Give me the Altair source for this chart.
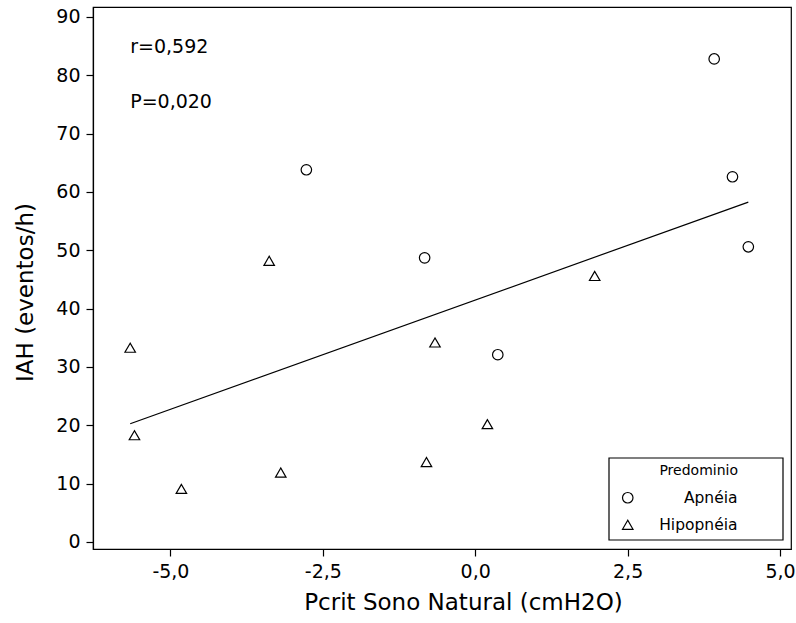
import altair as alt
import pandas as pd

# ---- data ----
apneia_x = [-2.77, -0.83, 0.37, 3.92, 4.22, 4.48]
apneia_y = [63.8, 48.7, 32.1, 82.8, 62.6, 50.6]
hipo_x = [-5.66, -5.59, -4.82, -3.38, -3.19, -0.80, -0.66, 0.20, 1.96]
hipo_y = [33.3, 18.3, 9.1, 48.2, 11.9, 13.7, 34.2, 20.2, 45.6]
groups = ["Apnéia", "Hipopnéia"]
shapes = ["circle", "triangle-up"]
x_ticks = [-5.0, -2.5, 0.0, 2.5, 5.0]
y_ticks = [0, 10, 20, 30, 40, 50, 60, 70, 80, 90]
annot_text = ["r=0,592", "P=0,020"]
annot_x = [-5.66, -5.66]
annot_y = [84.8, 75.4]
legend_title = "Predominio"

df = pd.DataFrame({
    "x": apneia_x + hipo_x,
    "y": apneia_y + hipo_y,
    "Predominio": [groups[0]] * len(apneia_x) + [groups[1]] * len(hipo_x),
})
ann = pd.DataFrame({"x": annot_x, "y": annot_y, "t": annot_text})

FONT = "DejaVu Sans"
xscale = alt.Scale(domain=[-6.27, 5.18], nice=False, zero=False)
yscale = alt.Scale(domain=[-1.2, 91.7], nice=False, zero=False)

xenc = alt.X("x:Q", scale=xscale, title="Pcrit Sono Natural (cmH2O)",
             axis=alt.Axis(values=x_ticks, titleX=370,
                           labelExpr="replace(replace(format(datum.value, '.1f'), '.', ','), '\u2212', '-')"))
yenc = alt.Y("y:Q", scale=yscale, title="IAH (eventos/h)",
             axis=alt.Axis(values=y_ticks, format="d", titleY=285))

# legend frame (chart chrome)
legend_box = alt.Chart(pd.DataFrame({"k": [0]})).mark_rect(
    fill="white", stroke="black", strokeWidth=1.2).encode(
    x=alt.value(516), x2=alt.value(690), y=alt.value(451), y2=alt.value(533))

points = alt.Chart(df).mark_point(filled=False, color="black", strokeWidth=1.2, size=110, opacity=1).encode(
    x=xenc, y=yenc,
    shape=alt.Shape("Predominio:N", scale=alt.Scale(domain=groups, range=shapes),
                    legend=alt.Legend(
                        orient="none", legendX=521, legendY=457,
                        title=legend_title, titleAnchor="end", titleFontWeight="normal",
                        titleFontSize=14, titleFont=FONT, titleColor="black", titlePadding=12,
                        labelFontSize=15.5, labelFont=FONT, labelColor="black",
                        labelAlign="right", labelOffset=102,
                        symbolSize=110, symbolStrokeColor="black", symbolStrokeWidth=1.2,
                        symbolFillColor="transparent", symbolType="circle", symbolOffset=6,
                        padding=0, rowPadding=10,
                    )),
)

line = alt.Chart(df).transform_regression("x", "y").mark_line(color="black", strokeWidth=1.2).encode(
    x=alt.X("x:Q", scale=xscale), y=alt.Y("y:Q", scale=yscale))

text = alt.Chart(ann).mark_text(align="left", baseline="middle", fontSize=19, font=FONT, color="black").encode(
    x=alt.X("x:Q", scale=xscale), y=alt.Y("y:Q", scale=yscale), text="t:N")

chart = alt.layer(legend_box, line, points, text).properties(
    width=698, height=542,
    autosize=alt.AutoSizeParams(type="none"),
    padding={"left": 93, "top": 7, "right": 5, "bottom": 74},
    background="white",
).configure_view(stroke="black", strokeWidth=1.2).configure_axis(
    grid=False, domainColor="black", domainWidth=1.2, tickColor="black", tickSize=7, tickWidth=1.2,
    labelColor="black", labelFont=FONT, labelFontSize=19, labelPadding=6,
    titleColor="black", titleFont=FONT, titleFontSize=23, titleFontWeight="normal",
).configure_axisX(titlePadding=10).configure_axisY(titlePadding=18)

chart.save("out.html", embed_options={"renderer": "svg", "actions": False})
